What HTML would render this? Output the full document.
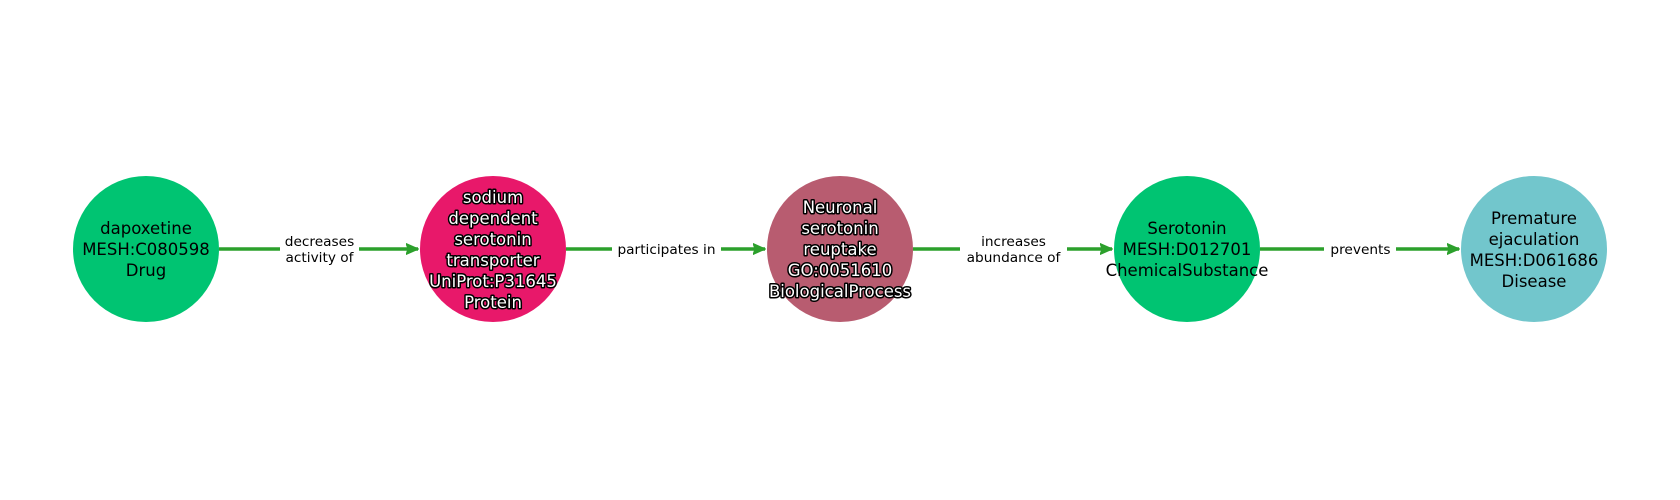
<!DOCTYPE html>
<html><head><meta charset="utf-8"><style>
html,body{margin:0;padding:0;background:#fff;}
svg{display:block;}
text{font-family:"DejaVu Sans","Liberation Sans",sans-serif;text-anchor:middle;}
.n{font-size:16.5px;fill:#000;}
.o{font-size:16.5px;fill:#fff;stroke:#000;stroke-width:3px;paint-order:stroke;stroke-linejoin:round;}
.e{font-size:13.7px;fill:#000;}
</style></head><body>
<svg width="1680" height="500" viewBox="0 0 1680 500" xmlns="http://www.w3.org/2000/svg">
<defs><marker id="a" markerWidth="13" markerHeight="12" refX="12" refY="6" orient="auto" markerUnits="userSpaceOnUse"><path d="M0,0.5 L12.5,6 L0,11.5 L2,6 z" fill="#2ca02c" stroke="#2ca02c" stroke-width="1" stroke-linejoin="round"/></marker></defs>
<g stroke="#2ca02c" stroke-width="3.5">
<line x1="219" y1="249" x2="418" y2="249" marker-end="url(#a)"/>
<line x1="566" y1="249" x2="765" y2="249" marker-end="url(#a)"/>
<line x1="913" y1="249" x2="1112" y2="249" marker-end="url(#a)"/>
<line x1="1260" y1="249" x2="1459" y2="249" marker-end="url(#a)"/>
</g>
<rect x="280" y="232" width="79" height="34" fill="#fff"/>
<text class="e" x="319.5" y="246">decreases</text>
<text class="e" x="319.5" y="262">activity of</text>
<rect x="612" y="240" width="109" height="18" fill="#fff"/>
<text class="e" x="666.5" y="254">participates in</text>
<rect x="960" y="232" width="107" height="34" fill="#fff"/>
<text class="e" x="1013.5" y="246">increases</text>
<text class="e" x="1013.5" y="262">abundance of</text>
<rect x="1324" y="240" width="72" height="18" fill="#fff"/>
<text class="e" x="1360.5" y="254">prevents</text>
<circle cx="146" cy="249" r="73" fill="#00c472"/>
<circle cx="493" cy="249" r="73" fill="#e8186a"/>
<circle cx="840" cy="249" r="73" fill="#b85c70"/>
<circle cx="1187" cy="249" r="73" fill="#00c472"/>
<circle cx="1534" cy="249" r="73" fill="#72c6cc"/>
<text class="n" x="146" y="234">dapoxetine</text>
<text class="n" x="146" y="255">MESH:C080598</text>
<text class="n" x="146" y="276">Drug</text>
<text class="o" x="493" y="203">sodium</text>
<text class="o" x="493" y="224">dependent</text>
<text class="o" x="493" y="245">serotonin</text>
<text class="o" x="493" y="266">transporter</text>
<text class="o" x="493" y="287">UniProt:P31645</text>
<text class="o" x="493" y="308">Protein</text>
<text class="o" x="840" y="213">Neuronal</text>
<text class="o" x="840" y="234">serotonin</text>
<text class="o" x="840" y="255">reuptake</text>
<text class="o" x="840" y="276">GO:0051610</text>
<text class="o" x="840" y="297">BiologicalProcess</text>
<text class="n" x="1187" y="234">Serotonin</text>
<text class="n" x="1187" y="255">MESH:D012701</text>
<text class="n" x="1187" y="276">ChemicalSubstance</text>
<text class="n" x="1534" y="224">Premature</text>
<text class="n" x="1534" y="245">ejaculation</text>
<text class="n" x="1534" y="266">MESH:D061686</text>
<text class="n" x="1534" y="287">Disease</text>
</svg>
</body></html>
